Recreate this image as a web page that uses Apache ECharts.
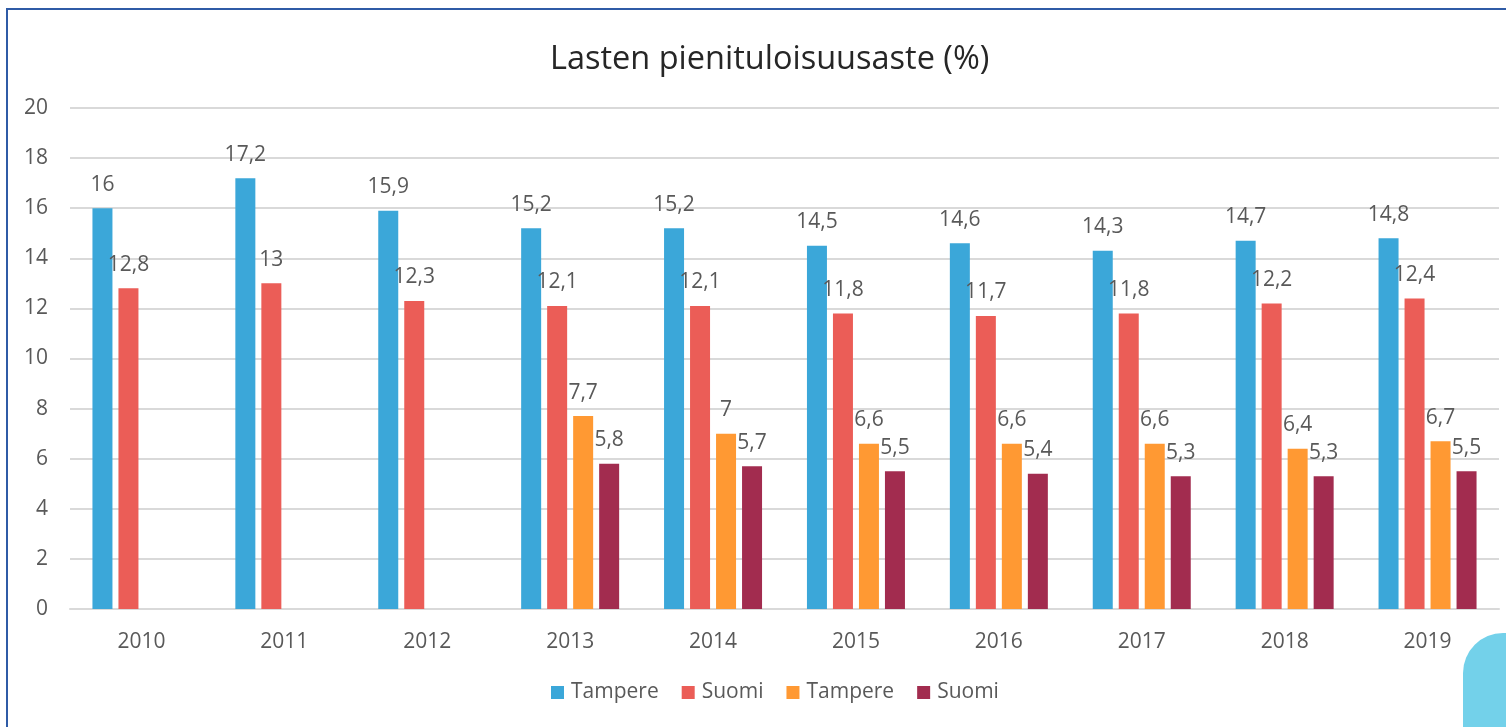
<!DOCTYPE html>
<html>
<head>
<meta charset="utf-8">
<script src="https://cdn.jsdelivr.net/npm/echarts@6/dist/echarts.min.js"></script>
<style>
html,body{margin:0;padding:0;background:#fff;}
#chart{width:1506px;height:727px;}
</style>
</head>
<body>
<div id="chart"></div>
<script>
const years = ['2010','2011','2012','2013','2014','2015','2016','2017','2018','2019'];
const tampere = [16, 17.2, 15.9, 15.2, 15.2, 14.5, 14.6, 14.3, 14.7, 14.8];
const suomi = [12.8, 13, 12.3, 12.1, 12.1, 11.8, 11.7, 11.8, 12.2, 12.4];
const tampere2 = [null, null, null, 7.7, 7, 6.6, 6.6, 6.6, 6.4, 6.7];
const suomi2 = [null, null, null, 5.8, 5.7, 5.5, 5.4, 5.3, 5.3, 5.5];
const seriesNames = ['Tampere#1', 'Suomi#1', 'Tampere#2', 'Suomi#2'];
const colors = ['#3BA7D9', '#EB5D57', '#FF9933', '#A22C4F'];
const yTicks = { min: 0, max: 20, interval: 2 };

const FONT = '"Open Sans", "Noto Sans", sans-serif';
const chart = echarts.init(document.getElementById('chart'), null, {renderer: 'canvas'});

function mk(name, data, color) {
  return {
    name: name,
    type: 'bar',
    data: data,
    barWidth: 20,
    barGap: '30%',
    itemStyle: { color: color },
    label: {
      show: true,
      position: 'top',
      distance: 13,
      color: '#595959',
      fontSize: 21,
      fontFamily: FONT,
      formatter: p => (p.value == null ? '' : String(p.value).replace('.', ','))
    }
  };
}

chart.setOption({
  animation: false,
  backgroundColor: '#ffffff',
  title: {
    text: 'Lasten pienituloisuusaste (%)',
    left: 545,
    top: 38,
    textStyle: { fontFamily: FONT, fontSize: 32.5, fontWeight: 'normal', color: '#262626' }
  },
  legend: {
    data: seriesNames,
    bottom: 19,
    left: 546,
    icon: 'rect',
    itemWidth: 13,
    itemHeight: 13,
    itemGap: 23,
    formatter: n => n.replace(/#\d$/, ''),
    textStyle: { fontFamily: FONT, fontSize: 21, color: '#595959', padding: [0, 0, 0, 2] }
  },
  grid: { left: 70, right: 7, top: 108, bottom: 118, containLabel: false },
  xAxis: {
    type: 'category',
    data: years,
    axisLine: { show: true, lineStyle: { color: '#D9D9D9', width: 2 } },
    axisTick: { show: false },
    axisLabel: { color: '#595959', fontSize: 21, fontFamily: FONT, margin: 23 }
  },
  yAxis: {
    type: 'value',
    min: yTicks.min,
    max: yTicks.max,
    interval: yTicks.interval,
    axisLine: { show: false },
    axisTick: { show: false },
    splitLine: { lineStyle: { color: '#D9D9D9', width: 2 } },
    axisLabel: { color: '#595959', fontSize: 21, fontFamily: FONT, margin: 22 }
  },
  series: [
    mk(seriesNames[0], tampere, colors[0]),
    mk(seriesNames[1], suomi, colors[1]),
    mk(seriesNames[2], tampere2, colors[2]),
    mk(seriesNames[3], suomi2, colors[3])
  ],
  graphic: [
    {
      type: 'rect',
      shape: { x: 7, y: 9, width: 1520, height: 760 },
      style: { fill: null, stroke: '#2F5BA6', lineWidth: 2 },
      silent: true
    },
    {
      type: 'rect',
      shape: { x: 1463, y: 633, width: 120, height: 200, r: [40, 40, 0, 0] },
      style: { fill: '#73D1EA' },
      silent: true
    }
  ]
});
</script>
</body>
</html>
